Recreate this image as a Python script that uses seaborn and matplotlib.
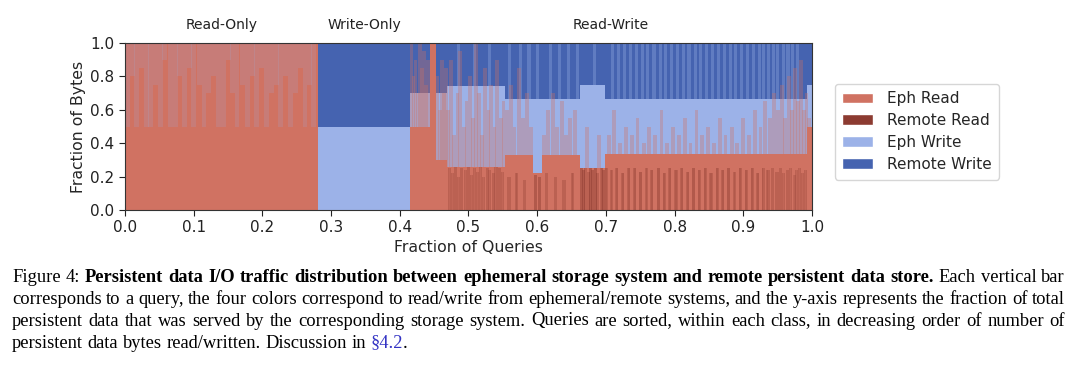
import numpy as np
import pandas as pd
import matplotlib
matplotlib.use("Agg")
import matplotlib.pyplot as plt
from matplotlib.patches import Patch
import seaborn as sns

# query classes along the x axis (fraction of queries)
class_names = ["Read-Only", "Write-Only", "Read-Write"]
class_bounds = [0.0, 0.281, 0.415, 1.0]

# stacking order bottom -> top, and legend order
stack_order = ["Remote Read", "Eph Read", "Eph Write", "Remote Write"]
legend_order = ["Eph Read", "Remote Read", "Eph Write", "Remote Write"]
colors = {
    "Eph Read": "#d07262",
    "Remote Read": "#8c3b31",
    "Eph Write": "#9cb2e8",
    "Remote Write": "#4563b0",
}

# broad runs of queries with (roughly) the same split
seg_start = [0.0, 0.281, 0.415, 0.444, 0.452, 0.468, 0.553, 0.594, 0.607, 0.662, 0.699, 0.993]
seg_end = [0.281, 0.415, 0.444, 0.452, 0.468, 0.553, 0.594, 0.607, 0.662, 0.699, 0.993, 1.0]
seg_rr = [0.0] * 12
seg_er = [1.0, 0.0, 0.50, 1.0, 0.30, 0.26, 0.33, 0.22, 0.33, 0.25, 0.333, 0.50]
seg_ew = [0.0, 0.5, 0.20, 0.0, 0.40, 0.48, 0.333, 0.443, 0.333, 0.50, 0.333, 0.25]
seg_rw = [0.0, 0.5, 0.30, 0.0, 0.30, 0.26, 0.337, 0.337, 0.337, 0.25, 0.334, 0.25]

# read-only queries with some ephemeral write on top (bottom of the write part)
ro_tall_x = [0.004, 0.011, 0.017, 0.024, 0.031, 0.037, 0.045, 0.052, 0.058, 0.066,
             0.073, 0.079, 0.087, 0.094, 0.100, 0.108, 0.115, 0.121, 0.129, 0.136,
             0.143, 0.150, 0.156, 0.163, 0.171, 0.178, 0.185, 0.192, 0.199, 0.206,
             0.213, 0.220, 0.227, 0.234, 0.241, 0.248, 0.255, 0.262, 0.269, 0.275]
ro_tall_bottom = [0.50, 0.80, 0.50, 0.85, 0.50, 0.50, 0.75, 0.50, 0.90, 0.50,
                  0.50, 0.80, 0.50, 0.85, 0.50, 0.75, 0.50, 0.70, 0.80, 0.50,
                  0.50, 0.90, 0.70, 0.50, 0.75, 0.50, 0.80, 0.50, 0.85, 0.50,
                  0.70, 0.75, 0.50, 0.80, 0.50, 0.70, 0.85, 0.50, 0.75, 0.50]

# read-write queries whose ephemeral read reaches high
rw_red_x = [0.417, 0.420, 0.423, 0.426, 0.429, 0.432, 0.435, 0.438, 0.441,
            0.455, 0.458, 0.461, 0.464, 0.467,
            0.470, 0.475, 0.479, 0.484, 0.488, 0.493, 0.497, 0.502, 0.506, 0.511,
            0.515, 0.520, 0.524, 0.529, 0.533, 0.538, 0.542, 0.547, 0.551,
            0.556, 0.562, 0.567, 0.573, 0.579, 0.585, 0.591, 0.610, 0.616, 0.623,
            0.629, 0.636, 0.642, 0.648, 0.655,
            0.672, 0.690,
            0.704, 0.712, 0.721, 0.729, 0.738, 0.746, 0.755, 0.763, 0.772, 0.781,
            0.789, 0.798, 0.806, 0.815, 0.823, 0.832, 0.840, 0.849, 0.857, 0.866,
            0.874, 0.883, 0.891, 0.900, 0.908, 0.917, 0.925, 0.932, 0.939, 0.945,
            0.951, 0.956, 0.961, 0.966, 0.971, 0.975, 0.980, 0.984, 0.988, 0.992,
            0.996]
rw_red_top = [1.00, 0.80, 0.90, 0.70, 1.00, 0.85, 0.95, 0.75, 0.90,
              0.80, 0.60, 0.90, 0.70, 0.85,
              0.60, 0.90, 0.45, 0.70, 0.95, 0.50, 0.65, 0.80, 0.55, 1.00,
              0.70, 0.45, 0.85, 0.60, 0.75, 0.50, 0.90, 0.55, 0.65,
              0.60, 0.75, 0.50, 0.85, 0.55, 0.70, 0.50, 0.45, 0.60, 0.70,
              0.50, 0.65, 0.45, 0.55, 0.60,
              0.50, 0.45,
              0.45, 0.60, 0.40, 0.50, 0.45, 0.55, 0.40, 0.50, 0.45, 0.60,
              0.40, 0.50, 0.45, 0.55, 0.40, 0.60, 0.45, 0.50, 0.40, 0.55,
              0.45, 0.50, 0.40, 0.55, 0.45, 0.60, 0.50, 0.65, 0.55, 0.70,
              0.60, 0.75, 0.55, 0.80, 0.60, 0.85, 0.65, 0.90, 0.60, 0.70,
              0.55]

# read-write queries with a large remote read share
rw_dark_x = [0.472, 0.477, 0.481, 0.486, 0.490, 0.495, 0.500, 0.504, 0.509,
             0.513, 0.518, 0.522, 0.527, 0.531, 0.536, 0.540, 0.545, 0.549,
             0.559, 0.570, 0.582, 0.597, 0.603, 0.613, 0.626, 0.639, 0.652,
             0.664, 0.667, 0.670, 0.675, 0.678, 0.681, 0.685, 0.688, 0.693, 0.696,
             0.701, 0.708, 0.716, 0.724, 0.733, 0.741, 0.750, 0.759, 0.767, 0.776,
             0.785, 0.793, 0.802, 0.810, 0.819, 0.828, 0.836, 0.845, 0.853, 0.862,
             0.870, 0.879, 0.887, 0.896, 0.904, 0.913, 0.921, 0.929, 0.936, 0.943,
             0.949, 0.954, 0.959, 0.964, 0.969, 0.974, 0.978, 0.982, 0.986, 0.990]
rw_dark_top = [0.25, 0.22, 0.26, 0.20, 0.25, 0.24, 0.26, 0.21, 0.25,
               0.23, 0.26, 0.20, 0.25, 0.24, 0.22, 0.26, 0.25, 0.23,
               0.20, 0.22, 0.18, 0.21, 0.20, 0.22, 0.20, 0.18, 0.22,
               0.25, 0.24, 0.25, 0.23, 0.25, 0.24, 0.25, 0.22, 0.25, 0.24,
               0.25, 0.24, 0.25, 0.22, 0.25, 0.25, 0.23, 0.25, 0.24, 0.25,
               0.22, 0.25, 0.24, 0.25, 0.23, 0.25, 0.24, 0.25, 0.22, 0.25,
               0.24, 0.25, 0.23, 0.25, 0.24, 0.25, 0.22, 0.25, 0.24, 0.25,
               0.23, 0.25, 0.22, 0.24, 0.25, 0.21, 0.24, 0.25, 0.22, 0.24]

# read-write queries whose ephemeral write goes all the way up
rw_tall_x = [0.486, 0.509, 0.531,
             0.560, 0.576, 0.588, 0.601, 0.620, 0.633, 0.645, 0.658,
             0.684,
             0.709, 0.718, 0.727, 0.736, 0.744, 0.753, 0.761, 0.770, 0.779, 0.787,
             0.796, 0.804, 0.813, 0.821, 0.830, 0.838, 0.847, 0.855, 0.864, 0.872,
             0.881, 0.889, 0.898, 0.906, 0.915, 0.923, 0.930, 0.937, 0.944, 0.950,
             0.958, 0.965, 0.972, 0.979]
rw_tall_bottom = [0.74, 0.74, 0.74,
                  0.66, 0.66, 0.66, 0.66, 0.66, 0.66, 0.66, 0.66,
                  0.75,
                  0.66, 0.66, 0.66, 0.66, 0.66, 0.66, 0.66, 0.66, 0.66, 0.66,
                  0.66, 0.66, 0.66, 0.66, 0.66, 0.66, 0.66, 0.66, 0.66, 0.66,
                  0.66, 0.66, 0.66, 0.66, 0.66, 0.66, 0.66, 0.66, 0.66, 0.66,
                  0.66, 0.66, 0.66, 0.66]

caption_lines = [
    [("Figure 4:", "normal"),
     ("Persistent data I/O traffic distribution between ephemeral storage system and remote persistent data store.", "bold"),
     ("Each vertical bar", "normal")],
    [("corresponds to a query, the four colors correspond to read/write from ephemeral/remote systems, and the y-axis represents the fraction of total", "normal")],
    [("persistent data that was served by the corresponding storage system. Queries are sorted, within each class, in decreasing order of number of", "normal")],
    [("persistent data bytes read/written. Discussion in", "normal"), ("§4.2", "link"), (".", "glue")],
]
caption_baselines_px = [281.5, 303.5, 325.5, 347.5]

segs = pd.DataFrame({"x": seg_start, "w": np.array(seg_end) - np.array(seg_start),
                     "Remote Read": seg_rr, "Eph Read": seg_er,
                     "Eph Write": seg_ew, "Remote Write": seg_rw})

sns.set_theme(style="ticks")
plt.rcParams["font.family"] = ["DejaVu Sans"]

W, H = 1080, 374
fig = plt.figure(figsize=(W / 100, H / 100), dpi=100)
ax = fig.add_axes([125 / W, 1 - 210 / H, 687 / W, 167 / H])

# stacked base runs
bottom = np.zeros(len(segs))
for s in stack_order:
    ax.bar(segs["x"], segs[s], width=segs["w"], bottom=bottom, align="edge",
           color=colors[s], linewidth=0)
    bottom = bottom + segs[s].to_numpy()

# single queries that stand out, drawn translucent so they blend like the original
ax.bar(ro_tall_x, 1 - np.array(ro_tall_bottom), bottom=ro_tall_bottom, width=0.0072,
       color=colors["Eph Write"], alpha=0.17, linewidth=0)
ax.bar(rw_tall_x, 1 - np.array(rw_tall_bottom), bottom=rw_tall_bottom, width=0.0045,
       color=colors["Eph Write"], alpha=0.32, linewidth=0)
ax.bar(rw_dark_x, rw_dark_top, width=0.0045,
       color=colors["Remote Read"], alpha=0.45, linewidth=0)
ax.bar(rw_red_x, rw_red_top, width=0.0055,
       color=colors["Eph Read"], alpha=0.33, linewidth=0)

ax.set_xlim(0, 1)
ax.set_ylim(0, 1)
ax.set_xticks(np.arange(0, 1.01, 0.1))
ax.set_yticks(np.arange(0, 1.01, 0.2))
ax.xaxis.set_major_formatter(matplotlib.ticker.FormatStrFormatter("%.1f"))
ax.yaxis.set_major_formatter(matplotlib.ticker.FormatStrFormatter("%.1f"))
ax.tick_params(labelsize=11, length=4, width=0.8, colors="#222222")
for sp in ax.spines.values():
    sp.set_color("#333333")
    sp.set_linewidth(0.8)
ax.set_xlabel("Fraction of Queries", fontsize=11.3, labelpad=3)
ax.set_ylabel("Fraction of Bytes", fontsize=11.3, labelpad=3)

for name, a, b in zip(class_names, class_bounds[:-1], class_bounds[1:]):
    ax.text((a + b) / 2, 1.108, name, transform=ax.get_xaxis_transform(),
            ha="center", va="center", fontsize=10, color="#222222")

handles = [Patch(facecolor=colors[s], label=s) for s in legend_order]
fig.legend(handles=handles, loc="upper left", bbox_to_anchor=(827 / W, 1 - 76 / H),
           fontsize=11, frameon=True, handlelength=2.0, handleheight=0.7,
           labelspacing=0.45, borderpad=0.5, handletextpad=0.9,
           edgecolor="#cccccc", fancybox=True)

# caption, justified like the paper
fig.canvas.draw()
renderer = fig.canvas.get_renderer()
cap_size = 13.3
x0_px, x1_px = 12, 1065
space_px = 0.25 * cap_size * 100 / 72
for li, (spans, base) in enumerate(zip(caption_lines, caption_baselines_px)):
    tokens = []
    for text, style in spans:
        if style == "glue":
            tokens.append((text, "normal", "black", True))
            continue
        for word in text.split(" "):
            tokens.append((word, "bold" if style == "bold" else "normal",
                           "#3434c4" if style == "link" else "black", False))
    objs = [fig.text(0, 1 - base / H, t[0], fontsize=cap_size, family="Liberation Serif",
                     weight=t[1], color=t[2], va="baseline") for t in tokens]
    widths = [o.get_window_extent(renderer).width for o in objs]
    ngaps = sum(1 for i, t in enumerate(tokens) if i > 0 and not t[3])
    last = li == len(caption_lines) - 1
    gap = space_px if last else (x1_px - x0_px - sum(widths)) / ngaps
    x = x0_px
    for i, (o, t, w) in enumerate(zip(objs, tokens, widths)):
        if i > 0 and not t[3]:
            x += gap
        o.set_x(x / W)
        x += w

fig.savefig("out.png", dpi=100)
